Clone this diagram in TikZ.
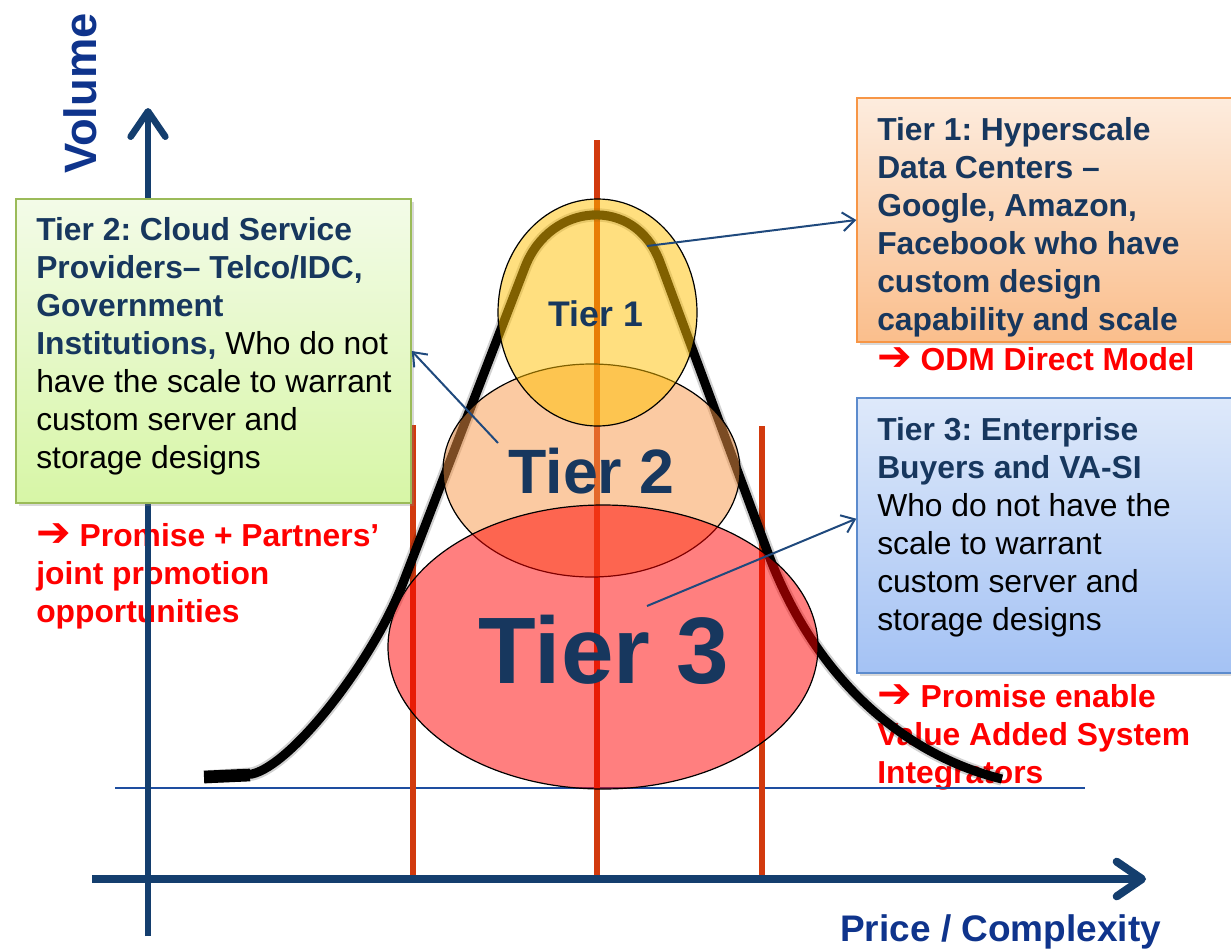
\documentclass[tikz,border=0pt]{standalone}
\usepackage{fontspec}
\setmainfont{Liberation Sans}
\newfontfamily\djv{DejaVu Sans}
\usetikzlibrary{arrows.meta,shadows}
\frenchspacing
\definecolor{navy}{RGB}{23,55,94}
\definecolor{axiscol}{RGB}{20,62,110}
\definecolor{axlabel}{RGB}{15,52,140}
\definecolor{redline}{RGB}{210,58,14}
\definecolor{conncol}{RGB}{31,73,125}
\definecolor{thinline}{RGB}{30,78,160}
\definecolor{tonefill}{RGB}{255,192,0}
\definecolor{ttwofill}{RGB}{247,150,70}
\definecolor{tthreefill}{RGB}{255,0,0}
\definecolor{redtxt}{RGB}{255,0,0}
\definecolor{gtop}{RGB}{243,251,232}
\definecolor{gbot}{RGB}{215,246,166}
\definecolor{gborder}{RGB}{155,187,89}
\definecolor{otop}{RGB}{253,236,222}
\definecolor{obot}{RGB}{250,190,140}
\definecolor{oborder}{RGB}{247,150,70}
\definecolor{btop}{RGB}{222,233,250}
\definecolor{bbot}{RGB}{164,194,244}
\definecolor{bborder}{RGB}{92,139,205}
\newcommand\myarrow{{\djv\fontsize{31}{28.5}\selectfont ➔}}
\tikzset{
  boxtext/.style={anchor=north west, inner sep=0pt, align=left, text=navy,
    font=\fontsize{23.85}{28.5}\selectfont\bfseries},
  redtext/.style={anchor=north west, inner sep=0pt, align=left, text=redtxt,
    font=\fontsize{23.85}{28.5}\selectfont\bfseries},
  tierbox/.style={rectangle, inner sep=0pt, line width=1.1pt,
    drop shadow={shadow xshift=2.5pt, shadow yshift=-2.5pt, opacity=0.3}},
  conn/.style={draw=conncol, line width=1.5pt, -{Straight Barb[length=9pt,width=14pt]}},
  axisline/.style={draw=axiscol, -{Straight Barb[length=19pt,width=26pt,round]}},
  tierell/.style={draw=black, line width=0.9pt, fill opacity=0.5},
  tierlabel/.style={anchor=base, inner sep=0pt, text=navy},
  redvline/.style={draw=redline, line width=5pt},
  bell/.style={line join=round},
}
\begin{document}
\begin{tikzpicture}[x=0.75pt,y=-0.75pt]
\useasboundingbox (0,0) rectangle (1231,950);

% red conclusions
\node[redtext] (rleft) at (36,523) {\myarrow{} Promise + Partners’\\joint promotion\\opportunities};
\node[redtext, anchor=base west] (rodm) at (877,370) {\myarrow{} ODM Direct Model};
\node[redtext] (rright) at (877,684) {\myarrow{} Promise enable\\Value Added System\\Integrators};

% baseline
\draw[thinline, line width=1.2pt] (115,788) -- (1085,788);

% vertical red lines
\draw[redvline] (413,425) -- (413,879);
\draw[redvline] (597,140) -- (597,879);
\draw[redvline] (762,426) -- (762,879);

% axes
\coordinate (ybot) at (148,936);
\coordinate (ytip) at (148,108);
\coordinate (xleft) at (92,879);
\coordinate (xtip) at (1146,879);
\draw[axisline, line width=5pt] (ybot) -- (ytip);
\draw[axisline, line width=6pt] (xleft) -- (xtip);

% bell curve
\def\bellpath{(205,777) -- (252,774) .. controls (292,765) and (373,661) .. (403,583)
  -- (525,267) .. controls (550,202) and (635,195) .. (660,262)
  -- (768,553) .. controls (813,674) and (900,754) .. (1002,779)}
\draw[bell, black, opacity=0.18, line width=10pt] \bellpath;
\draw[bell, black, line width=6.8pt] \bellpath;
\draw[black, line width=9.5pt] (204,777) -- (250,775);

% tier ellipses
\draw[tierell, fill=ttwofill] (591.5,470.5) ellipse [x radius=148.5, y radius=106.5];
\draw[tierell, fill=tonefill] (597.5,312.5) ellipse [x radius=99.5, y radius=113.5];
\draw[tierell, fill=tthreefill] (603,647) ellipse [x radius=215, y radius=142];

% boxes
\node[tierbox, draw=gborder, top color=gtop, bottom color=gbot,
  minimum width=296.25pt, minimum height=228pt] (t2box) at (213.5,351) {};
\node[tierbox, draw=oborder, top color=otop, bottom color=obot,
  minimum width=287.25pt, minimum height=183pt] (t1box) at (1048.5,220) {};
\node[tierbox, draw=bborder, top color=btop, bottom color=bbot,
  minimum width=287.25pt, minimum height=206.25pt] (t3box) at (1048.5,535.5) {};

\node[boxtext] (t2text) at (36,217) {Tier 2: Cloud Service\\Providers– Telco/IDC,\\Government\\Institutions, \textcolor{black}{\mdseries Who do not}\\{\color{black}\mdseries have the scale to warrant}\\{\color{black}\mdseries custom server and}\\{\color{black}\mdseries storage designs}};
\node[boxtext] (t1text) at (877,117) {Tier 1: Hyperscale\\Data Centers –\\Google, Amazon,\\Facebook who have\\custom design\\capability and scale};
\node[boxtext] (t3text) at (877,417) {Tier 3: Enterprise\\Buyers and VA-SI\\{\color{black}\mdseries Who do not have the}\\{\color{black}\mdseries scale to warrant}\\{\color{black}\mdseries custom server and}\\{\color{black}\mdseries storage designs}};

% tier labels
\node[tierlabel, font=\fontsize{26.7}{30}\selectfont\bfseries] (l1) at (596,326) {Tier 1};
\node[tierlabel, font=\fontsize{47}{52}\selectfont\bfseries] (l2) at (591.5,493) {Tier 2};
\node[tierlabel, font=\fontsize{70.8}{78}\selectfont\bfseries] (l3) at (604,683) {Tier 3};

% connectors
\coordinate (c1) at (647,246);
\coordinate (c2) at (498,443);
\coordinate (c3) at (647,606);
\draw[conn] (c1) -- (t1box.west);
\draw[conn] (c2) -- (t2box.east);
\draw[conn] (c3) -- (t3box.175);

% axis labels
\node[rotate=90, anchor=base, inner sep=0pt, text=axlabel,
  font=\fontsize{34}{40}\selectfont\bfseries] (vol) at (96,93.5) {Volume};
\node[anchor=base west, inner sep=0pt, text=axlabel,
  font=\fontsize{27.75}{32}\selectfont\bfseries] (price) at (840,941) {Price / Complexity};
\end{tikzpicture}
\end{document}
